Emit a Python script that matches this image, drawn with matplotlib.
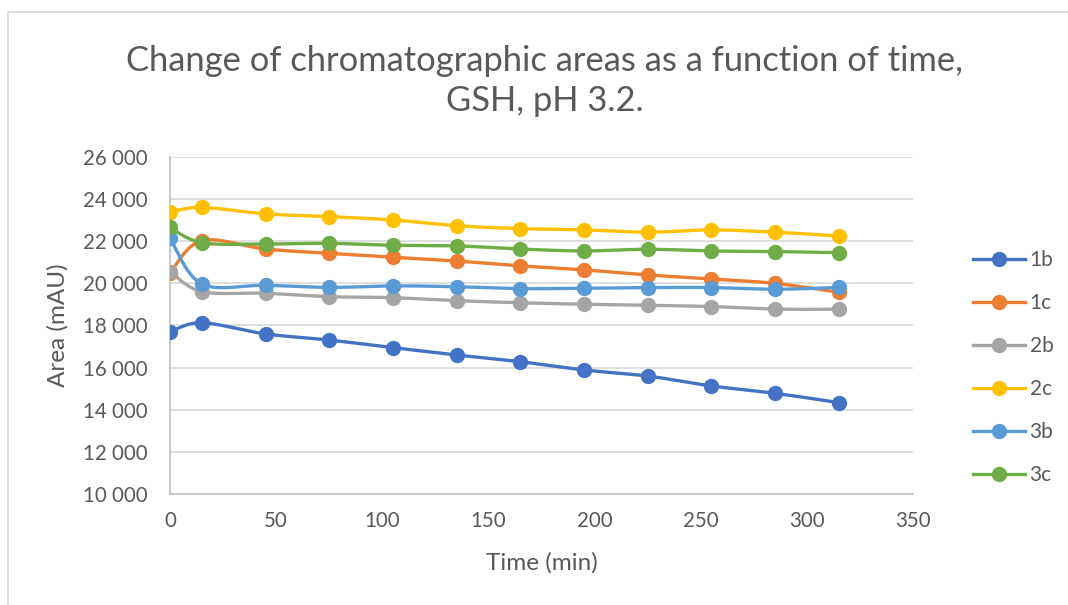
import numpy as np
import matplotlib
matplotlib.use("Agg")
import matplotlib.pyplot as plt
from matplotlib.ticker import FuncFormatter, MultipleLocator
from matplotlib.lines import Line2D
from matplotlib.patches import Rectangle

# ---- data ----
time_min = [0, 15, 45, 75, 105, 135, 165, 195, 225, 255, 285, 315]
s_1b = [17700, 18130, 17600, 17310, 16950, 16600, 16280, 15890, 15600, 15130, 14780, 14340]
s_1c = [20510, 22030, 21630, 21430, 21240, 21060, 20830, 20640, 20400, 20210, 20000, 19580]
s_2b = [20560, 19610, 19530, 19370, 19320, 19180, 19080, 19010, 18960, 18900, 18780, 18770]
s_2c = [23380, 23610, 23300, 23170, 23010, 22740, 22600, 22540, 22430, 22540, 22430, 22250]
s_3b = [22140, 19970, 19910, 19810, 19880, 19840, 19750, 19770, 19800, 19800, 19720, 19810]
s_3c = [22660, 21930, 21870, 21900, 21810, 21780, 21630, 21540, 21620, 21540, 21510, 21460]
series_names = ["1b", "1c", "2b", "2c", "3b", "3c"]
series_vals = [s_1b, s_1c, s_2b, s_2c, s_3b, s_3c]
colors = ["#4472C4", "#ED7D31", "#A5A5A5", "#FFC000", "#5B9BD5", "#70AD47"]


def smooth(x, y, n=30):
    x = np.asarray(x, float)
    y = np.asarray(y, float)
    P = np.column_stack([x, y])
    out = [P[0]]
    m = len(P)
    t = np.linspace(0, 1, n)[1:]
    for i in range(m - 1):
        p0 = P[i - 1] if i > 0 else P[i]
        p1 = P[i]
        p2 = P[i + 1]
        p3 = P[i + 2] if i + 2 < m else P[i + 1]
        c1 = p1 + (p2 - p0) / 6.0
        c2 = p2 - (p3 - p1) / 6.0
        for tt in t:
            b = ((1 - tt) ** 3) * p1 + 3 * ((1 - tt) ** 2) * tt * c1 + 3 * (1 - tt) * tt ** 2 * c2 + tt ** 3 * p2
            out.append(b)
    out = np.array(out)
    return out[:, 0], out[:, 1]


plt.rcParams['font.family'] = ['Lato', 'DejaVu Sans']
txt = "#595959"

W, H = 1068, 605
fig = plt.figure(figsize=(W / 100, H / 100), dpi=100)

# outer border
fig.patches.append(Rectangle((8 / W, -0.1), 1.2, (H - 12) / H + 0.1, transform=fig.transFigure,
                             fill=False, edgecolor="#D9D9D9", linewidth=1.2))

ax = fig.add_axes([170 / W, 1 - 494 / H, (913 - 170) / W, (494 - 157) / H])
ax.set_xlim(0, 350)
ax.set_ylim(10000, 26000)
ax.xaxis.set_major_locator(MultipleLocator(50))
ax.yaxis.set_major_locator(MultipleLocator(2000))
ax.yaxis.set_major_formatter(FuncFormatter(lambda v, p: f"{int(v):,}".replace(",", " ")))
ax.grid(axis='y', color="#D9D9D9", linewidth=1.2)
ax.set_axisbelow(True)
for s in ["top", "right"]:
    ax.spines[s].set_visible(False)
ax.spines["left"].set_color("#BFBFBF")
ax.spines["bottom"].set_color("#BFBFBF")
ax.spines["left"].set_linewidth(1.2)
ax.spines["bottom"].set_linewidth(1.2)
ax.tick_params(length=0, labelsize=14.8, colors=txt)
ax.tick_params(axis='y', pad=16)
ax.tick_params(axis='x', pad=12)

handles = []
for name, vals, c in zip(series_names, series_vals, colors):
    sx, sy = smooth(time_min, vals)
    ax.plot(sx, sy, color=c, linewidth=2.4, solid_capstyle='round', zorder=3)
    ax.plot(time_min, vals, linestyle='none', marker='o', markersize=10, color=c, zorder=4)
    handles.append(Line2D([0], [0], color=c, linewidth=2.4, marker='o', markersize=10))

ax.set_xlabel("Time (min)", fontsize=17.5, color=txt)
ax.xaxis.set_label_coords(0.5, -(563 - 494) / (494 - 157), transform=ax.transAxes)
ax.xaxis.label.set_va('center')
ax.set_ylabel("Area (mAU)", fontsize=17.5, color=txt)
ax.yaxis.set_label_coords(-(170 - 58) / (913 - 170), 0.5, transform=ax.transAxes)
ax.yaxis.label.set_va('center')

fig.text(545 / W, 1 - 81 / H, "Change of chromatographic areas as a function of time,\nGSH, pH 3.2.",
         ha='center', va='center', fontsize=24.8, color=txt, linespacing=1.33)

leg = fig.legend(handles, series_names, loc='upper left', bbox_to_anchor=(965 / W, 1 - 242 / H),
                 frameon=False, fontsize=15, labelcolor=txt, handlelength=2.5,
                 labelspacing=1.1, handletextpad=0.2, borderaxespad=0)

fig.savefig("out.png", dpi=100)
